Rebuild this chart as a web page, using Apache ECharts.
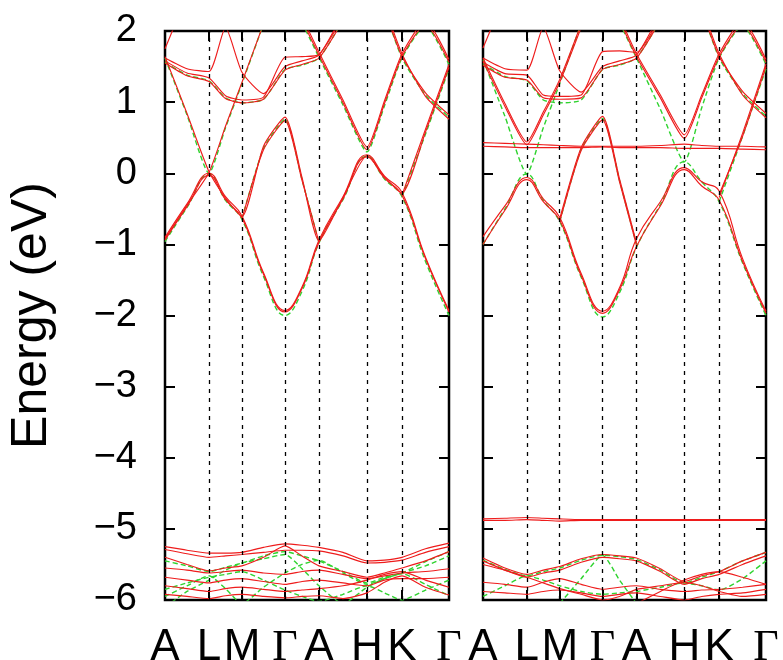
<!DOCTYPE html>
<html>
<head>
<meta charset="utf-8">
<script src="https://cdn.jsdelivr.net/npm/echarts@6/dist/echarts.min.js"></script>
<style>
html,body{margin:0;padding:0;background:#fff;}
#chart{width:783px;height:660px;}
</style>
</head>
<body>
<div id="chart"></div>
<script>
const _ = null;
// k-path sample points (A, -, L, -, M, -, Γ, -, A, -, H, -, K, -, Γ)
const kGrid = [0, 22, 44, 60.5, 77, 98.5, 120, 137, 154, 178, 202, 219.5, 237, 260.5, 284];
const kTicks = [0, 44, 77, 120, 154, 202, 237, 284];
const kLabels = ['A', 'L', 'M', 'Γ', 'A', 'H', 'K', 'Γ'];
const kInner = [44, 77, 120, 154, 202, 237];

// ---------- left panel ----------
const leftRedV1   = [-0.94, -0.47, -0.03, -0.37, -0.63, -1.42, -1.95, -1.62, -0.97, -0.36, 0.23, -0.07, -0.31, -1.20, -1.95];
const leftRedV1b  = [-0.90, -0.43, 0.00, -0.33, -0.60, -1.40, -1.93, -1.60, -0.94, -0.33, 0.26, -0.04, -0.27, -1.18, -1.93];
const leftRedV2   = [1.64, 0.84, 0.02, -0.35, -0.61, 0.38, 0.79, -0.06, -0.95, -0.34, 0.25, -0.05, -0.28, 0.58, 1.49];
const leftRedV2b  = [_, _, _, _, -0.64, 0.33, 0.74, -0.10, -0.97, _, _, _, -0.31, 0.62, 1.53];
const leftRedC1   = [-0.92, -0.45, 0.01, 0.66, 1.28, 2.10, _, _, _, _, _, _, _, _, _];
const leftRedU1   = [1.62, 1.47, 1.43, 2.05, 1.42, 1.12, 1.50, 1.58, 1.66, 2.25, _, _, _, _, _];
const leftRedU2   = [1.58, 1.41, 1.34, 1.09, 1.03, 1.07, 1.63, 1.64, 1.67, 2.20, _, _, _, _, _];
const leftRedU3   = [1.55, 1.37, 1.29, 1.05, 0.99, 1.04, 1.45, 1.53, 1.62, 2.15, _, _, _, _, _];
const leftRedHA   = [_, _, _, _, _, _, _, 2.15, 1.66, 0.99, 0.33, 0.98, 1.64, 2.10, 1.56];
const leftRedHB   = [_, _, _, _, _, _, _, 2.20, 1.70, 1.03, 0.37, 1.02, 1.68, 2.15, 1.60];
const leftRedKG   = [_, _, _, _, _, _, _, _, _, _, _, 2.30, 1.64, 1.13, 0.82];
const leftRedKGb  = [_, _, _, _, _, _, _, _, _, _, _, 2.35, 1.68, 1.08, 0.76];
const leftRedTop  = [1.75, 2.50, _, _, _, _, _, _, _, _, _, _, _, _, _];
const leftRedLow1 = [-5.25, -5.30, -5.34, -5.34, -5.33, -5.26, -5.21, -5.23, -5.26, -5.33, -5.45, -5.44, -5.40, -5.28, -5.20];
const leftRedLow2 = [-5.29, -5.35, -5.40, -5.38, -5.36, -5.33, -5.30, -5.30, -5.31, -5.38, -5.48, -5.47, -5.44, -5.33, -5.25];
const leftRedLow3 = [-5.40, -5.50, -5.59, -5.55, -5.52, -5.40, -5.24, -5.38, -5.52, -5.60, -5.68, -5.62, -5.55, -5.45, -5.32];
const leftRedLow4 = [-5.55, -5.58, -5.62, -5.60, -5.58, -5.62, -5.64, -5.60, -5.58, -5.64, -5.70, -5.66, -5.62, -5.60, -5.56];
const leftRedLow5 = [-5.68, -5.72, -5.76, -5.72, -5.70, -5.74, -5.78, -5.74, -5.72, -5.76, -5.80, -5.72, -5.70, -5.70, -5.68];
const leftRedLow6 = [-5.80, -5.84, -5.88, -5.84, -5.82, -5.85, -5.88, -5.86, -5.84, -5.80, -5.72, -5.64, -5.60, -5.72, -5.82];
const leftRedLow7 = [-5.92, -5.95, -5.98, -5.94, -5.92, -5.95, -5.97, -5.95, -5.94, -5.98, -5.90, -5.75, -5.66, -5.82, -5.93];

const leftGreenV1 = [-0.96, -0.48, -0.01, -0.38, -0.65, -1.45, -2.00, -1.66, -0.98, -0.37, 0.24, -0.08, -0.33, -1.24, -2.00];
const leftGreenX  = [1.62, 0.82, 0.00, 0.64, 1.26, 2.10, _, _, _, _, _, _, _, _, _];
const leftGreenV2 = [_, _, _, _, -0.64, 0.35, 0.76, -0.09, -0.98, _, _, _, -0.33, 0.55, 1.47];
const leftGreenU  = [1.56, 1.38, 1.30, 1.06, 0.99, 1.04, 1.46, 1.52, 1.62, 2.15, _, _, _, _, _];
const leftGreenHA = [_, _, _, _, _, _, _, 2.12, 1.63, 0.96, 0.30, 0.95, 1.62, 2.08, 1.53];
const leftGreenKG = [_, _, _, _, _, _, _, _, _, _, _, 2.30, 1.62, 1.10, 0.79];
const leftGreenLow1 = [-5.45, -5.52, -5.60, -5.54, -5.48, -5.38, -5.32, -5.38, -5.45, -5.60, -5.76, -5.68, -5.62, -5.46, -5.32];
const leftGreenLow2 = [-5.95, -5.80, -5.66, -5.84, -6.05, -5.82, -5.62, -5.50, -5.44, -5.62, -5.78, -5.70, -5.62, -5.52, -5.38];
const leftGreenLow3 = [-6.10, -5.88, -5.72, -5.58, -5.48, -5.42, -5.36, -5.56, -5.80, -6.05, -5.82, -5.70, -5.63, -5.78, -5.94];
const leftGreenLow4 = [-5.85, -5.76, -5.68, -5.64, -5.60, -5.72, -5.86, -5.95, -6.02, -5.92, -5.80, -5.90, -6.00, -5.86, -5.72];

// ---------- right panel ----------
const rightRedV1   = [-1.00, -0.52, -0.09, -0.40, -0.66, -1.44, -1.97, -1.64, -1.03, -0.46, 0.05, -0.18, -0.38, -1.24, -1.97];
const rightRedV1b  = [-0.89, -0.46, -0.06, -0.36, -0.62, -1.41, -1.94, -1.61, -0.92, -0.40, 0.08, -0.12, -0.25, -1.20, -1.94];
const rightRedV2   = [_, _, _, _, -0.64, 0.36, 0.80, -0.08, -0.98, _, _, _, -0.30, 0.52, 1.50];
const rightRedV2b  = [_, _, _, _, -0.68, 0.32, 0.75, -0.12, -1.01, _, _, _, -0.34, 0.56, 1.54];
const rightRedCone = [1.62, 0.98, 0.44, 0.86, 1.32, 2.10, _, _, _, _, _, _, _, _, _];
const rightRedConeB= [1.58, 0.94, 0.40, 0.82, 1.28, 2.05, _, _, _, _, _, _, _, _, _];
const rightRedFlat = [0.43, 0.42, 0.41, 0.40, 0.39, 0.38, 0.38, 0.38, 0.38, 0.39, 0.41, 0.39, 0.38, 0.38, 0.37];
const rightRedFlatB= [0.38, 0.37, 0.36, 0.36, 0.36, 0.36, 0.37, 0.36, 0.36, 0.36, 0.35, 0.35, 0.35, 0.34, 0.33];
const rightRedU1   = [1.62, 1.47, 1.45, 2.05, 1.44, 1.14, 1.50, 1.58, 1.66, 2.25, _, _, _, _, _];
const rightRedU2   = [1.56, 1.40, 1.38, 1.10, 1.08, 1.10, 1.71, 1.72, 1.70, 2.20, _, _, _, _, _];
const rightRedU3   = [1.52, 1.35, 1.31, 1.06, 1.04, 1.06, 1.46, 1.53, 1.62, 2.15, _, _, _, _, _];
const rightRedHA   = [_, _, _, _, _, _, _, 2.15, 1.64, 1.06, 0.49, 1.06, 1.64, 2.10, 1.56];
const rightRedHB   = [_, _, _, _, _, _, _, 2.20, 1.68, 1.10, 0.54, 1.10, 1.68, 2.15, 1.60];
const rightRedKG   = [_, _, _, _, _, _, _, _, _, _, _, 2.30, 1.64, 1.15, 0.84];
const rightRedKGb  = [_, _, _, _, _, _, _, _, _, _, _, 2.35, 1.68, 1.10, 0.78];
const rightRedTop  = [1.76, 2.50, _, _, _, _, _, _, _, _, _, _, _, _, _];
const rightRedIso1 = [-4.86, -4.85, -4.84, -4.85, -4.86, -4.87, -4.87, -4.87, -4.87, -4.87, -4.87, -4.87, -4.87, -4.87, -4.87];
const rightRedIso2 = [-4.88, -4.88, -4.87, -4.88, -4.89, -4.88, -4.88, -4.88, -4.88, -4.88, -4.88, -4.88, -4.88, -4.88, -4.88];
const rightRedLow1 = [-5.41, -5.55, -5.64, -5.58, -5.53, -5.42, -5.36, -5.38, -5.41, -5.56, -5.74, -5.66, -5.60, -5.45, -5.33];
const rightRedLow2 = [-5.45, -5.58, -5.68, -5.62, -5.58, -5.47, -5.40, -5.42, -5.45, -5.60, -5.78, -5.70, -5.64, -5.50, -5.38];
const rightRedLow3 = [-5.50, -5.58, -5.68, -5.76, -5.84, -5.92, -6.00, -5.95, -5.85, -5.80, -5.75, -5.80, -5.88, -5.95, -5.92];
const rightRedLow4 = [_, _, _, _, _, _, _, _, -6.05, -5.88, -5.72, -5.64, -5.60, -5.68, -5.78];
const rightRedLow5 = [-5.75, -5.78, -5.82, -5.75, -5.70, -5.78, -5.85, -5.82, -5.80, -5.85, -5.88, -5.86, -5.85, -5.82, -5.78];
const rightRedLow6 = [-5.88, -5.90, -5.92, -5.88, -5.86, -5.90, -5.95, -5.92, -5.90, -5.95, -6.00, -5.95, -5.92, -5.90, -5.85];

const rightGreenV1 = [-1.00, -0.50, -0.01, -0.38, -0.68, -1.46, -2.02, -1.68, -1.04, -0.44, 0.16, -0.12, -0.40, -1.26, -2.00];
const rightGreenX  = [1.60, 0.80, -0.01, 0.64, 1.26, 2.10, _, _, _, _, _, _, _, _, _];
const rightGreenV2 = [_, _, _, _, -0.68, 0.34, 0.77, -0.10, -1.00, _, _, _, -0.40, 0.52, 1.47];
const rightGreenU  = [1.54, 1.36, 1.30, 1.03, 0.99, 1.03, 1.46, 1.52, 1.62, 2.15, _, _, _, _, _];
const rightGreenHA = [_, _, _, _, _, _, _, 2.12, 1.62, 0.90, 0.16, 0.92, 1.62, 2.08, 1.53];
const rightGreenKG = [_, _, _, _, _, _, _, _, _, _, _, 2.30, 1.62, 1.12, 0.80];
const rightGreenLow1 = [-5.44, -5.57, -5.66, -5.60, -5.55, -5.44, -5.37, -5.39, -5.43, -5.58, -5.76, -5.68, -5.60, -5.45, -5.33];
const rightGreenLow2 = [_, _, _, _, -6.05, -5.70, -5.37, -5.72, -6.05, _, _, _, _, _, _];
const rightGreenLow3 = [-5.95, -5.80, -5.66, -5.72, -5.80, -5.88, -5.92, -5.90, -5.88, -5.82, -5.76, -5.80, -5.86, -5.70, -5.45];

// lines whose Γ minimum is a rounded parabola get a softer curve
const roundLines = [leftRedV1, leftRedV1b, leftGreenV1, rightRedV1, rightRedV1b, rightGreenV1];

const panels = [
  {
    red: [leftRedV1, leftRedV1b, leftRedV2, leftRedV2b, leftRedC1, leftRedU1, leftRedU2, leftRedU3,
          leftRedHA, leftRedHB, leftRedKG, leftRedKGb, leftRedTop,
          leftRedLow1, leftRedLow2, leftRedLow3, leftRedLow4, leftRedLow5, leftRedLow6, leftRedLow7],
    green: [leftGreenV1, leftGreenX, leftGreenV2, leftGreenU, leftGreenHA, leftGreenKG,
            leftGreenLow1, leftGreenLow2, leftGreenLow3, leftGreenLow4]
  },
  {
    red: [rightRedV1, rightRedV1b, rightRedV2, rightRedV2b, rightRedCone, rightRedConeB, rightRedFlat, rightRedFlatB,
          rightRedU1, rightRedU2, rightRedU3, rightRedHA, rightRedHB, rightRedKG, rightRedKGb, rightRedTop,
          rightRedIso1, rightRedIso2, rightRedLow1, rightRedLow2, rightRedLow3, rightRedLow4, rightRedLow5, rightRedLow6],
    green: [rightGreenV1, rightGreenX, rightGreenV2, rightGreenU, rightGreenHA, rightGreenKG,
            rightGreenLow1, rightGreenLow2, rightGreenLow3]
  }
];

const FONT = "'Liberation Sans', Arial, Helvetica, sans-serif";
const RED = '#ee1c1c';
const GREEN = '#2fd32f';

function toData(arr) {
  return kGrid.map((k, i) => [k, arr[i] === null ? '-' : arr[i]]);
}
function kLabel(v) {
  const i = kTicks.findIndex(t => Math.abs(t - v) < 0.01);
  if (i < 0) return '';
  return kLabels[i] === 'Γ' ? '{g|Γ}' : kLabels[i];
}
function eLabel(v) {
  return v < 0 ? '\u2212' + Math.abs(v) : String(v);
}

const grids = [
  { left: 165, top: 31, width: 284, height: 569 },
  { left: 483, top: 31, width: 283, height: 569 }
].map(g => Object.assign(g, {
  show: true, borderColor: '#000', borderWidth: 2.5, backgroundColor: 'rgba(0,0,0,0)',
  containLabel: false, outerBoundsMode: 'none'
}));

const xAxes = [], yAxes = [], series = [];
panels.forEach((p, pi) => {
  ['bottom', 'top'].forEach((pos, j) => {
    xAxes.push({
      type: 'value', gridIndex: pi, position: pos, min: 0, max: 284,
      axisLine: { show: false, onZero: false },
      splitLine: { show: false },
      axisTick: { show: true, inside: true, length: 10, lineStyle: { color: '#000', width: 2 }, customValues: kTicks },
      axisLabel: {
        show: j === 0, customValues: kTicks, formatter: kLabel, margin: 26,
        color: '#000', fontSize: 44, fontFamily: FONT,
        rich: { g: { fontFamily: "'Liberation Serif', 'DejaVu Serif', serif", fontSize: 44, color: '#000' } }
      }
    });
  });
  ['left', 'right'].forEach((pos, j) => {
    const ax = {
      type: 'value', gridIndex: pi, position: pos, min: -6, max: 2, interval: 1,
      axisLine: { show: false, onZero: false },
      splitLine: { show: false },
      axisTick: { show: true, inside: true, length: 10, lineStyle: { color: '#000', width: 2 } },
      axisLabel: { show: pi === 0 && j === 0, formatter: eLabel, margin: 28, color: '#000', fontSize: 38, fontFamily: FONT }
    };
    if (pi === 0 && j === 0) {
      ax.name = 'Energy (eV)';
      ax.nameLocation = 'middle';
      ax.nameRotate = 90;
      ax.nameGap = 108;
      ax.nameTextStyle = { fontSize: 50, color: '#000', fontFamily: FONT };
    }
    yAxes.push(ax);
  });

  const common = { type: 'line', xAxisIndex: pi * 2, yAxisIndex: pi * 2, showSymbol: false, symbol: 'none',
                   animation: false, silent: true, clip: true };
  p.green.forEach(arr => {
    series.push(Object.assign({}, common, {
      data: toData(arr),
      smooth: roundLines.includes(arr) ? 0.45 : 0.2,
      lineStyle: { color: GREEN, width: 1.4, type: [5, 3] }
    }));
  });
  p.red.forEach(arr => {
    series.push(Object.assign({}, common, {
      data: toData(arr),
      smooth: roundLines.includes(arr) ? 0.45 : 0.2,
      lineStyle: { color: RED, width: 1.15 }
    }));
  });
  // dashed vertical lines at the inner high-symmetry points
  series[series.length - 1].markLine = {
    silent: true, symbol: 'none', animation: false,
    label: { show: false },
    lineStyle: { color: '#000', width: 1.3, type: [4, 5] },
    data: kInner.map(k => ({ xAxis: k }))
  };
});

const chart = echarts.init(document.getElementById('chart'), null, { renderer: 'canvas' });
chart.setOption({
  animation: false,
  backgroundColor: '#fff',
  grid: grids,
  xAxis: xAxes,
  yAxis: yAxes,
  series: series
});
</script>
</body>
</html>
